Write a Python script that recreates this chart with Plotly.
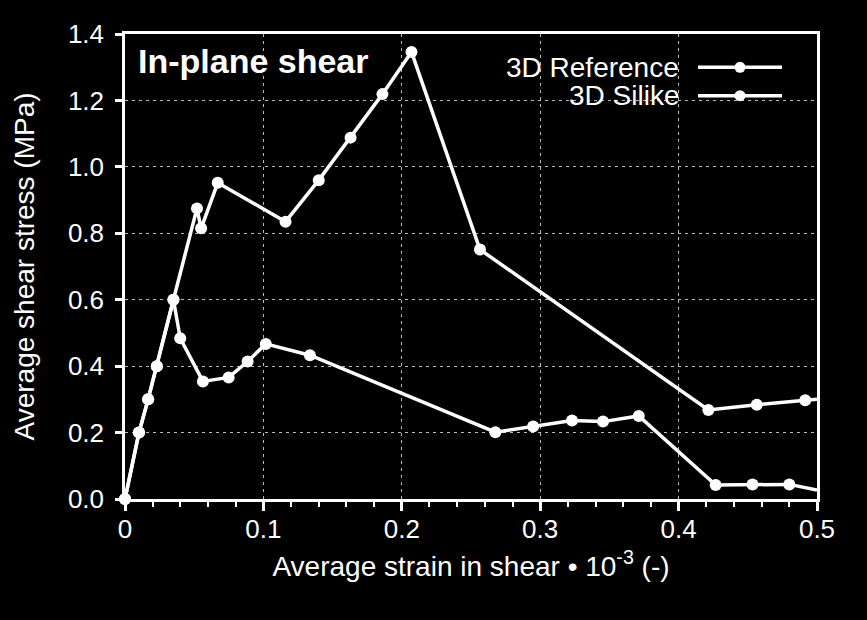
import plotly.graph_objects as go

# ---- data ----
ref_x = [0, 0.0101, 0.0167, 0.023, 0.035, 0.052, 0.055, 0.067, 0.116, 0.140,
         0.163, 0.186, 0.207, 0.2565, 0.4215, 0.4565, 0.4915, 0.5]
ref_y = [0, 0.20, 0.30, 0.40, 0.60, 0.875, 0.815, 0.952, 0.835, 0.960,
         1.088, 1.219, 1.346, 0.751, 0.268, 0.284, 0.297, 0.300]
sil_x = [0, 0.0101, 0.0167, 0.023, 0.035, 0.0399, 0.0563, 0.0749, 0.0886, 0.1017,
         0.1336, 0.2676, 0.2949, 0.323, 0.3454, 0.3712, 0.4268, 0.4534, 0.480, 0.5]
sil_y = [0, 0.20, 0.30, 0.40, 0.60, 0.484, 0.354, 0.366, 0.414, 0.467,
         0.433, 0.201, 0.218, 0.236, 0.233, 0.250, 0.042, 0.044, 0.044, 0.027]
series_names = ["3D Reference", "3D Silike"]
x_ticks = [0, 0.1, 0.2, 0.3, 0.4, 0.5]
x_tick_labels = ["0", "0.1", "0.2", "0.3", "0.4", "0.5"]
y_ticks = [0, 0.2, 0.4, 0.6, 0.8, 1.0, 1.2, 1.4]
y_tick_labels = ["0.0", "0.2", "0.4", "0.6", "0.8", "1.0", "1.2", "1.4"]
x_title = "Average strain in shear • 10<sup>-3</sup> (-)"
y_title = "Average shear stress (MPa)"
chart_title = "<b>In-plane shear</b>"

WHITE = "white"
REG = "Liberation Sans, Arial, sans-serif"

fig = go.Figure()
for xs, ys, name in [(ref_x, ref_y, series_names[0]), (sil_x, sil_y, series_names[1])]:
    sizes = [12] * (len(xs) - 1) + [0]
    fig.add_trace(go.Scatter(x=xs, y=ys, name=name, mode="lines+markers",
                             line=dict(color=WHITE, width=3.5),
                             marker=dict(color=WHITE, size=sizes, opacity=1,
                                         line=dict(width=0, color=WHITE)),
                             cliponaxis=False, showlegend=False))

# plot area geometry in pixels (for the hand-made legend and titles)
L, R, T, B = 125, 50, 34, 121
W, H = 867 - L - R, 620 - T - B
def px(x):
    return (x - L) / W
def py(y):
    return (620 - B - y) / H

# custom legend: text on the left, sample on the right
leg_rows = [67.3, 95.7]
for name, yy in zip(series_names, leg_rows):
    fig.add_annotation(x=px(681), y=py(yy), xref="paper", yref="paper",
                       text=name, showarrow=False, xanchor="right", yanchor="middle",
                       font=dict(family=REG, size=28, color=WHITE))
    fig.add_shape(type="line", xref="paper", yref="paper",
                  x0=px(698), x1=px(782), y0=py(yy), y1=py(yy),
                  line=dict(color=WHITE, width=3.5))
    fig.add_shape(type="circle", xref="paper", yref="paper",
                  xsizemode="pixel", ysizemode="pixel",
                  xanchor=px(740), yanchor=py(yy), x0=-5.5, x1=5.5, y0=-5.5, y1=5.5,
                  fillcolor=WHITE, line=dict(width=0))

fig.add_annotation(x=px(136), y=py(61), xref="paper", yref="paper",
                   text=chart_title, showarrow=False,
                   xanchor="left", yanchor="middle",
                   font=dict(family=REG, size=34, color=WHITE))

fig.add_annotation(x=px(24), y=py(266.5), xref="paper", yref="paper",
                   text=y_title, showarrow=False, textangle=-90,
                   xanchor="center", yanchor="middle",
                   font=dict(family=REG, size=28, color=WHITE))

fig.update_layout(
    width=867, height=620,
    margin=dict(l=L, r=R, t=T, b=B),
    paper_bgcolor="black", plot_bgcolor="black",
    showlegend=False,
    xaxis=dict(range=[0, 0.5], tickvals=x_ticks, ticktext=x_tick_labels,
               showline=True, linecolor=WHITE, linewidth=2.5, mirror=True,
               ticks="outside", ticklen=9, tickwidth=2.5, tickcolor=WHITE,
               minor=dict(dtick=0.02, ticks="outside", ticklen=5, tickwidth=2, tickcolor=WHITE,
                          showgrid=False),
               showgrid=True, gridcolor="#bbbbbb", gridwidth=1, griddash="3px,4px",
               zeroline=False, layer="below traces", ticklabelstandoff=-4,
               tickfont=dict(family=REG, size=26, color=WHITE),
               title=dict(text=x_title,
                          font=dict(family=REG, size=28, color=WHITE), standoff=14)),
    yaxis=dict(range=[0, 1.4], tickvals=y_ticks, ticktext=y_tick_labels,
               showline=True, linecolor=WHITE, linewidth=2.5, mirror=True,
               ticks="outside", ticklen=7, tickwidth=2.5, tickcolor=WHITE,
               showgrid=True, gridcolor="#bbbbbb", gridwidth=1, griddash="3px,4px",
               zeroline=False, layer="below traces", ticklabelstandoff=6,
               tickfont=dict(family=REG, size=26, color=WHITE)),
)

fig.write_html("out.html", config={"displayModeBar": False},
               post_script="document.body.style.margin='0';document.body.style.background='black';")
